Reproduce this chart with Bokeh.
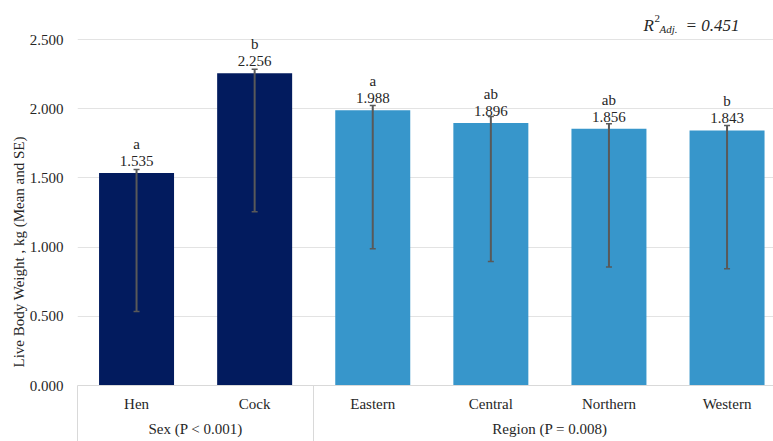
import numpy as np
from bokeh.plotting import figure
from bokeh.models import (ColumnDataSource, Range1d, FixedTicker, NumeralTickFormatter,
                          LinearAxis, Whisker, TeeHead, LabelSet, Label, Title)
from bokeh.core.properties import value
from bokeh.embed import file_html
from bokeh.resources import INLINE

# ---- data ----
categories = ["Hen", "Cock", "Eastern", "Central", "Northern", "Western"]
means = [1.535, 2.256, 1.988, 1.896, 1.856, 1.843]
err_low = [0.535, 1.256, 0.988, 0.896, 0.856, 0.843]
err_high = [1.561, 2.285, 2.023, 1.944, 1.891, 1.879]
letters = ["a", "b", "a", "ab", "ab", "b"]
groups = ["Sex (P < 0.001)", "Region (P = 0.008)"]
group_sizes = [2, 4]
y_ticks = [0.0, 0.5, 1.0, 1.5, 2.0, 2.5]
r2_text = "= 0.451"
y_title = "Live Body Weight , kg (Mean and SE)"

# ---- styling / layout ----
group_colors = ["#021b5e", "#3796cb"]
FONT = "Liberation Serif"
TXT = "#262626"
W, H = 773, 441
LEFT, BOTTOM = 77, 56
AXIS_TOP_PX = 39          # pixel row of the top gridline
SLOT_PX = 118.1
frame_w = W - LEFT
frame_h = H - BOTTOM
x_end = frame_w / SLOT_PX
px_y = y_ticks[-1] / (frame_h - AXIS_TOP_PX)
y_top = y_ticks[-1] + AXIS_TOP_PX * px_y
px_x = x_end / frame_w

x = np.arange(len(categories)) + 0.5
colors = [c for c, n in zip(group_colors, group_sizes) for _ in range(n)]
bounds = np.concatenate([[0], np.cumsum(group_sizes)])
group_centers = (bounds[:-1] + bounds[1:]) / 2

src = ColumnDataSource(dict(x=x, top=means, lower=err_low, upper=err_high, color=colors,
                            val=[f"{m:.3f}" for m in means], letter=letters))

p = figure(width=W, height=H, output_backend="svg", toolbar_location=None,
           x_range=Range1d(0, x_end), y_range=Range1d(0, y_top),
           min_border_left=LEFT, min_border_top=0, min_border_bottom=BOTTOM,
           min_border_right=0, outline_line_color=None,
           background_fill_color="white", border_fill_color="white")

p.xgrid.visible = False
p.ygrid.ticker = FixedTicker(ticks=y_ticks)
p.ygrid.grid_line_color = "#e3e3e3"
p.ygrid.grid_line_width = 1

# y axis
ya = p.yaxis[0]
ya.ticker = FixedTicker(ticks=y_ticks)
ya.formatter = NumeralTickFormatter(format="0.000")
ya.axis_line_color = None
ya.major_tick_line_color = None
ya.minor_tick_line_color = None
ya.major_tick_out = 0
ya.major_tick_in = 0
ya.major_label_standoff = 14
ya.major_label_text_font = FONT
ya.major_label_text_font_size = "15px"
ya.major_label_text_color = TXT

# y title (placed on the left panel, shifted so it centres on the value axis)
p.add_layout(Title(text=y_title, align="left", offset=18, standoff=0,
                   text_font=FONT, text_font_size="15px", text_font_style="normal",
                   text_color=TXT), "left")

# x axis A: category names
xa = p.xaxis[0]
xa.ticker = FixedTicker(ticks=list(x))
xa.major_label_overrides = {float(xi): c for xi, c in zip(x, categories)}
xa.axis_line_color = "#d9d9d9"
xa.major_tick_line_color = None
xa.minor_tick_line_color = None
xa.major_tick_out = 0
xa.major_tick_in = 0
xa.major_label_standoff = 10
xa.major_label_text_font = FONT
xa.major_label_text_font_size = "15px"
xa.major_label_text_color = TXT

# x axis B: group names
xb = LinearAxis(ticker=FixedTicker(ticks=list(group_centers)),
                major_label_overrides={float(c): g for c, g in zip(group_centers, groups)},
                axis_line_color=None, major_tick_line_color=None, minor_tick_line_color=None,
                major_tick_out=0, major_tick_in=0, major_label_standoff=6,
                major_label_text_font=FONT, major_label_text_font_size="15px",
                major_label_text_color=TXT)
p.add_layout(xb, "below")

# x axis C: group separators
xc = LinearAxis(ticker=FixedTicker(ticks=[float(b) for b in bounds]),
                major_label_overrides={float(b): "" for b in bounds},
                major_label_text_font_size="0px", major_label_standoff=0,
                axis_line_color=None, minor_tick_line_color=None,
                major_tick_line_color="#d9d9d9", major_tick_line_width=1,
                major_tick_in=54, major_tick_out=2)
p.add_layout(xc, "below")

# bars
p.vbar(x="x", top="top", width=0.635, fill_color="color", line_color=None, source=src)

# error bars (drawn above the bars)
ec = "#595959"
p.add_layout(Whisker(base="x", lower="lower", upper="upper", source=src, level="annotation",
                     line_color=ec, line_width=2,
                     upper_head=TeeHead(size=6, line_color=ec, line_width=1.5),
                     lower_head=TeeHead(size=6, line_color=ec, line_width=1.5)))

# value and letter labels
p.add_layout(LabelSet(x="x", y="top", text="val", source=src, text_align="center",
                      text_baseline="middle", y_offset=12, text_font=value(FONT),
                      text_font_size=value("15px"), text_color=value(TXT)))
p.add_layout(LabelSet(x="x", y="top", text="letter", source=src, text_align="center",
                      text_baseline="middle", y_offset=29, text_font=value(FONT),
                      text_font_size=value("15px"), text_color=value(TXT)))

# R^2 annotation
ax0 = (643 - LEFT) * px_x
ay0 = y_top - 25 * px_y
pieces = [("R", 0, 0, "17px", "italic"),
          ("2", 11, 7, "11px", "normal"),
          ("Adj.", 16, -3, "11px", "italic"),
          (r2_text, 42, 0, "17px", "italic")]
for t, dx, dy, fs, st in pieces:
    p.add_layout(Label(x=ax0 + dx * px_x, y=ay0 + dy * px_y, text=t, text_align="left",
                       text_baseline="alphabetic", text_font=FONT, text_font_size=fs,
                       text_font_style=st, text_color=TXT))

open("out.html", "w").write(file_html(p, INLINE))
